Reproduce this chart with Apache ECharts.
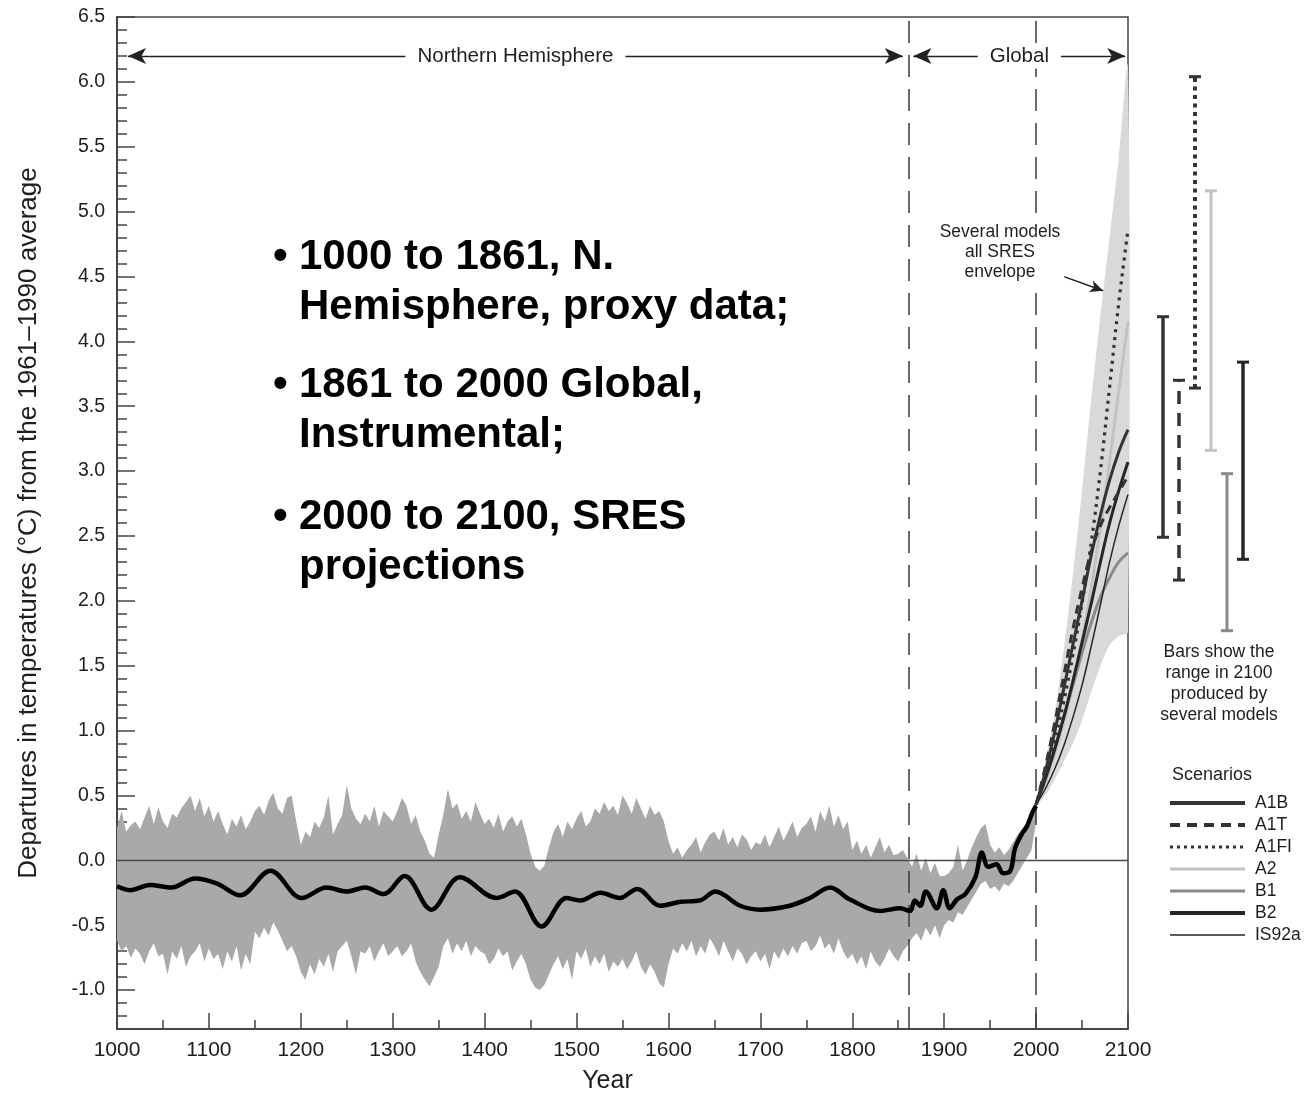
<!DOCTYPE html>
<html>
<head>
<meta charset="utf-8">
<title>Temperature departures, 1000–2100</title>
<script src="https://cdn.jsdelivr.net/npm/echarts@6/dist/echarts.min.js"></script>
<style>
  html, body { margin: 0; padding: 0; background: #fff; }
  #chart { width: 1315px; height: 1096px; }
</style>
</head>
<body>
<div id="chart"></div>
<script>
// ---------------------------------------------------------------------------
// Data
// ---------------------------------------------------------------------------

// Proxy / instrumental uncertainty band, one value every BAND_STEP years
const BAND_FIRST_YEAR = 1000;
const BAND_STEP = 5;
const bandUpper = [
  0.25, 0.38, 0.22, 0.27, 0.30, 0.24, 0.33, 0.42, 0.28, 0.41,
  0.30, 0.25, 0.36, 0.33, 0.40, 0.45, 0.50, 0.38, 0.48, 0.34,
  0.42, 0.30, 0.38, 0.28, 0.20, 0.32, 0.26, 0.35, 0.24, 0.30,
  0.38, 0.42, 0.35, 0.46, 0.52, 0.40, 0.36, 0.48, 0.50, 0.30,
  0.12, 0.22, 0.18, 0.30, 0.25, 0.33, 0.50, 0.20, 0.28, 0.35,
  0.58, 0.40, 0.32, 0.28, 0.36, 0.30, 0.42, 0.26, 0.38, 0.34,
  0.30, 0.38, 0.48, 0.42, 0.28, 0.35, 0.22, 0.15, 0.05, 0.02,
  0.20, 0.35, 0.55, 0.40, 0.44, 0.32, 0.38, 0.30, 0.45, 0.36,
  0.28, 0.32, 0.25, 0.36, 0.22, 0.30, 0.34, 0.26, 0.32, 0.20,
  0.05, -0.05, -0.08, -0.04, 0.10, 0.22, 0.28, 0.18, 0.30, 0.24,
  0.32, 0.38, 0.26, 0.30, 0.40, 0.36, 0.45, 0.38, 0.42, 0.35,
  0.50, 0.44, 0.36, 0.48, 0.40, 0.32, 0.42, 0.35, 0.38, 0.30,
  0.15, 0.05, 0.10, 0.02, 0.08, 0.12, 0.18, 0.06, 0.14, 0.20,
  0.22, 0.15, 0.25, 0.12, 0.18, 0.10, 0.20, 0.16, 0.08, 0.14,
  0.12, 0.20, 0.10, 0.18, 0.26, 0.15, 0.22, 0.30, 0.18, 0.25,
  0.28, 0.34, 0.22, 0.38, 0.30, 0.42, 0.26, 0.35, 0.24, 0.30,
  0.08, 0.15, 0.05, 0.12, 0.02, 0.10, 0.18, 0.06, 0.12, 0.04,
  0.05, 0.08, 0.02, -0.05, 0.05, -0.08, 0.02, -0.10, -0.02, -0.12,
  -0.12, -0.10, -0.05, 0.12, -0.08, 0.00, 0.10, 0.18, 0.25, 0.28,
  0.12, 0.06, 0.10, 0.04, 0.08, 0.14, 0.20, 0.24, 0.30, 0.38,
  0.46
];
const bandLower = [
  -0.62, -0.70, -0.66, -0.75, -0.68, -0.72, -0.80, -0.70, -0.64, -0.74,
  -0.72, -0.88, -0.70, -0.76, -0.66, -0.82, -0.74, -0.70, -0.64, -0.78,
  -0.68, -0.76, -0.72, -0.84, -0.70, -0.78, -0.66, -0.85, -0.72, -0.80,
  -0.55, -0.60, -0.52, -0.58, -0.48, -0.54, -0.62, -0.70, -0.66, -0.74,
  -0.86, -0.92, -0.80, -0.88, -0.76, -0.82, -0.72, -0.86, -0.70, -0.66,
  -0.62, -0.74, -0.88, -0.70, -0.72, -0.66, -0.78, -0.70, -0.64, -0.74,
  -0.70, -0.66, -0.74, -0.70, -0.64, -0.78, -0.86, -0.92, -0.97, -0.90,
  -0.82, -0.66, -0.60, -0.72, -0.64, -0.70, -0.62, -0.74, -0.66, -0.70,
  -0.72, -0.80, -0.76, -0.68, -0.74, -0.70, -0.85, -0.78, -0.72, -0.80,
  -0.92, -0.98, -1.00, -0.96, -0.88, -0.80, -0.74, -0.84, -0.76, -0.92,
  -0.70, -0.76, -0.68, -0.82, -0.74, -0.80, -0.72, -0.86, -0.78, -0.82,
  -0.76, -0.84, -0.78, -0.70, -0.82, -0.88, -0.80, -0.86, -0.95, -0.98,
  -0.80, -0.68, -0.72, -0.64, -0.70, -0.62, -0.74, -0.66, -0.72, -0.60,
  -0.66, -0.74, -0.62, -0.70, -0.78, -0.68, -0.72, -0.80, -0.74, -0.70,
  -0.78, -0.72, -0.84, -0.70, -0.76, -0.68, -0.74, -0.66, -0.72, -0.64,
  -0.62, -0.70, -0.66, -0.58, -0.68, -0.64, -0.72, -0.60, -0.70, -0.76,
  -0.72, -0.80, -0.74, -0.84, -0.70, -0.78, -0.82, -0.76, -0.68, -0.74,
  -0.78, -0.70, -0.66, -0.60, -0.56, -0.62, -0.52, -0.58, -0.50, -0.60,
  -0.50, -0.46, -0.48, -0.40, -0.42, -0.36, -0.30, -0.24, -0.18, -0.16,
  -0.22, -0.20, -0.24, -0.18, -0.20, -0.16, -0.10, -0.04, 0.02, 0.08,
  0.30
];

// Smoothed reconstruction (1000–1861) joined to the instrumental record (1861–2000)
const smoothYears = [
  1000, 1014, 1036, 1059, 1085, 1109, 1134, 1167, 1201, 1228,
  1250, 1270, 1290, 1313, 1342, 1373, 1413, 1433, 1462, 1489,
  1504, 1526, 1547, 1566, 1591, 1613, 1634, 1651, 1678, 1700,
  1732, 1754, 1776, 1797, 1830, 1852, 1863, 1868, 1874, 1880,
  1892, 1899, 1906, 1914, 1923, 1934, 1941, 1948, 1957, 1964,
  1972, 1977, 1985, 1990, 1996, 2000
];
const smoothValues = [
  -0.20, -0.23, -0.19, -0.21, -0.14, -0.18, -0.27, -0.08, -0.29, -0.21,
  -0.24, -0.21, -0.26, -0.12, -0.38, -0.13, -0.29, -0.24, -0.51, -0.29,
  -0.31, -0.25, -0.29, -0.22, -0.35, -0.32, -0.31, -0.24, -0.35, -0.38,
  -0.35, -0.29, -0.21, -0.30, -0.39, -0.37, -0.39, -0.31, -0.35, -0.24,
  -0.37, -0.23, -0.37, -0.30, -0.26, -0.13, 0.06, -0.05, -0.03, -0.10,
  -0.08, 0.09, 0.21, 0.26, 0.37, 0.42
];

// SRES projections, 2000–2100
const projYears = [2000, 2010, 2020, 2030, 2040, 2050, 2060, 2070, 2080, 2090, 2100];
const envelopeUpper = [0.42, 0.76, 1.12, 1.62, 2.20, 2.85, 3.55, 4.20, 4.80, 5.42, 6.12];
const envelopeLower = [0.42, 0.50, 0.62, 0.76, 0.90, 1.08, 1.30, 1.50, 1.66, 1.73, 1.76];

const scenarioNames = ['A1B', 'A1T', 'A1FI', 'A2', 'B1', 'B2', 'IS92a'];
const a1b   = [0.43, 0.68, 0.98, 1.32, 1.66, 2.00, 2.35, 2.66, 2.93, 3.15, 3.32];
const a1t   = [0.43, 0.72, 1.05, 1.42, 1.78, 2.10, 2.38, 2.58, 2.72, 2.84, 2.96];
const a1fi  = [0.43, 0.65, 0.92, 1.22, 1.58, 1.98, 2.45, 3.00, 3.65, 4.30, 4.86];
const a2    = [0.43, 0.60, 0.82, 1.06, 1.36, 1.70, 2.10, 2.56, 3.08, 3.62, 4.15];
const b1    = [0.43, 0.62, 0.85, 1.10, 1.35, 1.60, 1.83, 2.03, 2.18, 2.30, 2.37];
const b2    = [0.43, 0.63, 0.85, 1.10, 1.38, 1.68, 1.98, 2.30, 2.60, 2.85, 3.07];
const is92a = [0.43, 0.55, 0.70, 0.88, 1.10, 1.35, 1.65, 1.97, 2.30, 2.58, 2.82];

// Range of model results in 2100 for each scenario
const rangeNames = ['A1B', 'A1T', 'A1FI', 'A2', 'B1', 'B2'];
const rangeLow  = [2.49, 2.16, 3.64, 3.16, 1.77, 2.32];
const rangeHigh = [4.19, 3.70, 6.04, 5.16, 2.98, 3.84];

// Labelled ticks on the temperature axis
const yTickValues = [-1.0, -0.5, 0.0, 0.5, 1.0, 1.5, 2.0, 2.5, 3.0, 3.5, 4.0, 4.5, 5.0, 5.5, 6.0, 6.5];

// ---------------------------------------------------------------------------
// Styling
// ---------------------------------------------------------------------------
const FONT = '"Liberation Sans", Arial, Helvetica, sans-serif';
const AXIS_COLOR = '#444';
const TEXT_COLOR = '#1e1e1e';

const scenarioStyle = {
  'A1B':   { color: '#333333', width: 3,   type: 'solid',  legendWidth: 4,   legendType: 'solid' },
  'A1T':   { color: '#333333', width: 3,   type: [9, 6],   legendWidth: 4,   legendType: [10, 7] },
  'A1FI':  { color: '#333333', width: 3.2, type: [3, 5],   legendWidth: 3,   legendType: [3, 4] },
  'A2':    { color: '#c2c2c2', width: 3,   type: 'solid',  legendWidth: 3,   legendType: 'solid' },
  'B1':    { color: '#8a8a8a', width: 3,   type: 'solid',  legendWidth: 3,   legendType: 'solid' },
  'B2':    { color: '#262626', width: 3,   type: 'solid',  legendWidth: 4,   legendType: 'solid' },
  'IS92a': { color: '#262626', width: 1.5, type: 'solid',  legendWidth: 1.5, legendType: 'solid' }
};
const scenarioValues = { 'A1B': a1b, 'A1T': a1t, 'A1FI': a1fi, 'A2': a2, 'B1': b1, 'B2': b2, 'IS92a': is92a };

const rangeStyle = {
  'A1B':  { color: '#333333', width: 3.5, dash: null },
  'A1T':  { color: '#333333', width: 3.5, dash: [13, 9] },
  'A1FI': { color: '#333333', width: 4,   dash: [4, 4.5] },
  'A2':   { color: '#c2c2c2', width: 3,   dash: null },
  'B1':   { color: '#8a8a8a', width: 3,   dash: null },
  'B2':   { color: '#262626', width: 3.5, dash: null }
};

// ---------------------------------------------------------------------------
// Series construction
// ---------------------------------------------------------------------------
const bandYears = bandUpper.map((_, i) => BAND_FIRST_YEAR + i * BAND_STEP);

// Filled region between a lower and an upper bound, drawn through the axes
function filledBand(name, xs, lows, highs, color, smooth) {
  return {
    type: 'custom', name: name, xAxisIndex: 0, yAxisIndex: 0, silent: true, z: 1,
    data: [[xs[0], lows[0], highs[0]]],
    renderItem: function (params, api) {
      const top = xs.map((x, i) => api.coord([x, highs[i]]));
      const bottom = xs.map((x, i) => api.coord([x, lows[i]])).reverse();
      return {
        type: 'polygon',
        shape: { points: top.concat(bottom), smooth: smooth },
        style: { fill: color, stroke: null }
      };
    }
  };
}

const series = [];

series.push(filledBand('proxy-band', bandYears, bandLower, bandUpper, '#a9a9a9', 0));
series.push(filledBand('sres-envelope', projYears, envelopeLower, envelopeUpper, '#d9d9d9', 0.3));

// Reference lines: zero line and period boundaries
series.push({
  type: 'line', name: 'reference-lines', data: [], silent: true, z: 2,
  markLine: {
    silent: true, symbol: 'none', animation: false,
    label: { show: false },
    data: [
      { yAxis: 0, lineStyle: { type: 'solid', color: '#4a4a4a', width: 1.3 } },
      { xAxis: 1861, lineStyle: { type: [22, 12], color: '#3a3a3a', width: 1.5 } },
      { xAxis: 2000, lineStyle: { type: [22, 12], color: '#3a3a3a', width: 1.5 } }
    ]
  }
});

// Period arrows along the top and the envelope pointer
const periodLabel = (text) => ({
  show: true, position: 'middle', formatter: text, distance: 0, verticalAlign: 'middle',
  fontFamily: FONT, fontSize: 20.5, color: TEXT_COLOR,
  backgroundColor: '#fff', padding: [2, 12, 2, 12]
});
series.push({
  type: 'line', name: 'period-arrows', data: [], silent: true, z: 3,
  markLine: {
    silent: true, animation: false, symbolSize: [12, 18],
    lineStyle: { type: 'solid', color: '#222', width: 1.4 },
    data: [
      [
        { coord: [1012, 6.2], symbol: 'arrow' },
        { coord: [1855, 6.2], symbol: 'arrow', label: periodLabel('Northern Hemisphere') }
      ],
      [
        { coord: [1866.5, 6.2], symbol: 'arrow' },
        { coord: [2097, 6.2], symbol: 'arrow', label: periodLabel('Global') }
      ],
      [
        { coord: [2015.2, 4.537], symbol: 'none' },
        { coord: [2073, 4.39], symbol: 'arrow', symbolSize: [9, 13], label: { show: false } }
      ]
    ]
  }
});

// Scenario projections (lighter ones drawn first)
['A2', 'B1', 'IS92a', 'B2', 'A1B', 'A1T', 'A1FI'].forEach(name => {
  const st = scenarioStyle[name];
  series.push({
    type: 'line', name: name,
    data: projYears.map((y, i) => [y, scenarioValues[name][i]]),
    smooth: 0.4, symbol: 'none', z: 4,
    lineStyle: { color: st.color, width: st.width, type: st.type },
    itemStyle: { color: st.color }
  });
});

// Temperature record
series.push({
  type: 'line', name: 'record',
  data: smoothYears.map((y, i) => [y, smoothValues[i]]),
  smooth: 0.35, symbol: 'none', z: 5,
  lineStyle: { color: '#000', width: 4.5 }
});

// 2100 range bars beside the plot
series.push({
  type: 'custom', name: 'ranges', xAxisIndex: 1, yAxisIndex: 2, silent: true,
  data: rangeNames.map((_, i) => [i + 1, rangeLow[i], rangeHigh[i]]),
  renderItem: function (params, api) {
    const st = rangeStyle[rangeNames[params.dataIndex]];
    const x = api.value(0);
    const lo = api.coord([x, api.value(1)]);
    const hi = api.coord([x, api.value(2)]);
    const cap = 6;
    const capStyle = { stroke: st.color, lineWidth: 3 };
    return {
      type: 'group',
      children: [
        { type: 'line', shape: { x1: lo[0], y1: lo[1], x2: hi[0], y2: hi[1] },
          style: { stroke: st.color, lineWidth: st.width, lineDash: st.dash } },
        { type: 'line', shape: { x1: hi[0] - cap, y1: hi[1], x2: hi[0] + cap, y2: hi[1] }, style: capStyle },
        { type: 'line', shape: { x1: lo[0] - cap, y1: lo[1], x2: lo[0] + cap, y2: lo[1] }, style: capStyle }
      ]
    };
  }
});

// ---------------------------------------------------------------------------
// Chart
// ---------------------------------------------------------------------------
const chart = echarts.init(document.getElementById('chart'));

const bulletStyle = { fontFamily: FONT, fontSize: 42, fontWeight: 'bold', lineHeight: 50, fill: '#000', verticalAlign: 'top' };

const option = {
  animation: false,
  backgroundColor: '#fff',
  textStyle: { fontFamily: FONT },
  grid: [
    { left: 117, right: 187, top: 17, bottom: 67, show: true, outerBoundsMode: 'none', containLabel: false,
      borderColor: AXIS_COLOR, borderWidth: 1.5, backgroundColor: 'transparent' },
    { left: 1147, width: 112, top: 17, bottom: 67, outerBoundsMode: 'none', containLabel: false }
  ],
  xAxis: [
    {
      type: 'value', gridIndex: 0, min: 1000, max: 2100, interval: 100,
      name: 'Year', nameLocation: 'middle', nameGap: 40,
      nameTextStyle: { fontFamily: FONT, fontSize: 25, color: TEXT_COLOR, padding: [0, 30, 0, 0] },
      axisLine: { show: true, onZero: false, lineStyle: { color: AXIS_COLOR, width: 2 } },
      axisTick: { show: true, inside: true, length: 16, lineStyle: { color: AXIS_COLOR, width: 1.5 } },
      minorTick: { show: true, splitNumber: 2, length: 9, lineStyle: { color: AXIS_COLOR, width: 1.5 } },
      axisLabel: { formatter: v => String(v), fontFamily: FONT, fontSize: 21, color: TEXT_COLOR, margin: 11 },
      splitLine: { show: false }
    },
    { type: 'value', gridIndex: 1, min: 0, max: 7, show: false }
  ],
  yAxis: [
    {
      type: 'value', gridIndex: 0, min: -1.3, max: 6.5, position: 'left',
      name: 'Departures in temperatures (°C) from the 1961–1990 average',
      nameLocation: 'middle', nameGap: 75, nameRotate: 90,
      nameTextStyle: { fontFamily: FONT, fontSize: 26, color: TEXT_COLOR },
      axisLine: { show: true, onZero: false, lineStyle: { color: AXIS_COLOR, width: 2 } },
      axisTick: { show: true, inside: true, length: 18, customValues: yTickValues,
                  lineStyle: { color: AXIS_COLOR, width: 1.5 } },
      axisLabel: { customValues: yTickValues, formatter: v => Number(v).toFixed(1),
                   fontFamily: FONT, fontSize: 19.5, color: TEXT_COLOR, margin: 12 },
      splitLine: { show: false }
    },
    {
      type: 'value', gridIndex: 0, min: -1.3, max: 6.5, interval: 0.1, position: 'left',
      axisLine: { show: false, onZero: false },
      axisTick: { show: true, inside: true, length: 10, lineStyle: { color: AXIS_COLOR, width: 1.5 } },
      axisLabel: { show: false },
      splitLine: { show: false }
    },
    { type: 'value', gridIndex: 1, min: -1.3, max: 6.5, show: false }
  ],
  legend: {
    orient: 'vertical', left: 1163, top: 789,
    itemWidth: 75, itemHeight: 14, itemGap: 4,
    selectedMode: false,
    textStyle: { fontFamily: FONT, fontSize: 17.5, color: TEXT_COLOR, padding: [0, 0, 0, 5] },
    data: scenarioNames.map(n => ({
      name: n,
      itemStyle: { opacity: 0 },
      lineStyle: { color: scenarioStyle[n].color, width: scenarioStyle[n].legendWidth, type: scenarioStyle[n].legendType }
    }))
  },
  graphic: [
    // Bulleted notes
    { type: 'text', x: 273, y: 232, silent: true, style: Object.assign({ text: '•' }, bulletStyle) },
    { type: 'text', x: 299, y: 232, silent: true,
      style: Object.assign({ text: '1000 to 1861, N.\nHemisphere, proxy data;' }, bulletStyle) },
    { type: 'text', x: 273, y: 360, silent: true, style: Object.assign({ text: '•' }, bulletStyle) },
    { type: 'text', x: 299, y: 360, silent: true,
      style: Object.assign({ text: '1861 to 2000 Global,\nInstrumental;' }, bulletStyle) },
    { type: 'text', x: 273, y: 492, silent: true, style: Object.assign({ text: '•' }, bulletStyle) },
    { type: 'text', x: 299, y: 492, silent: true,
      style: Object.assign({ text: '2000 to 2100, SRES\nprojections' }, bulletStyle) },
    // Envelope note (white box interrupts the 2000 boundary line)
    { type: 'text', x: 1000, y: 220, z: 10, silent: true,
      style: { text: 'Several models\nall SRES\nenvelope', fontFamily: FONT, fontSize: 17.5, lineHeight: 20, fill: TEXT_COLOR,
               align: 'center', verticalAlign: 'top', backgroundColor: '#fff', padding: [2, 4, 4, 4] } },
    // Range bar note
    { type: 'text', x: 1219, y: 642, silent: true,
      style: { text: 'Bars show the\nrange in 2100\nproduced by\nseveral models', fontFamily: FONT, fontSize: 17.5, lineHeight: 20.8, fill: TEXT_COLOR, align: 'center', verticalAlign: 'top' } },
    // Legend heading
    { type: 'text', x: 1212, y: 775, silent: true,
      style: { text: 'Scenarios', fontFamily: FONT, fontSize: 18, fill: TEXT_COLOR, align: 'center', verticalAlign: 'middle' } }
  ],
  series: series
};

chart.setOption(option);
</script>
</body>
</html>
